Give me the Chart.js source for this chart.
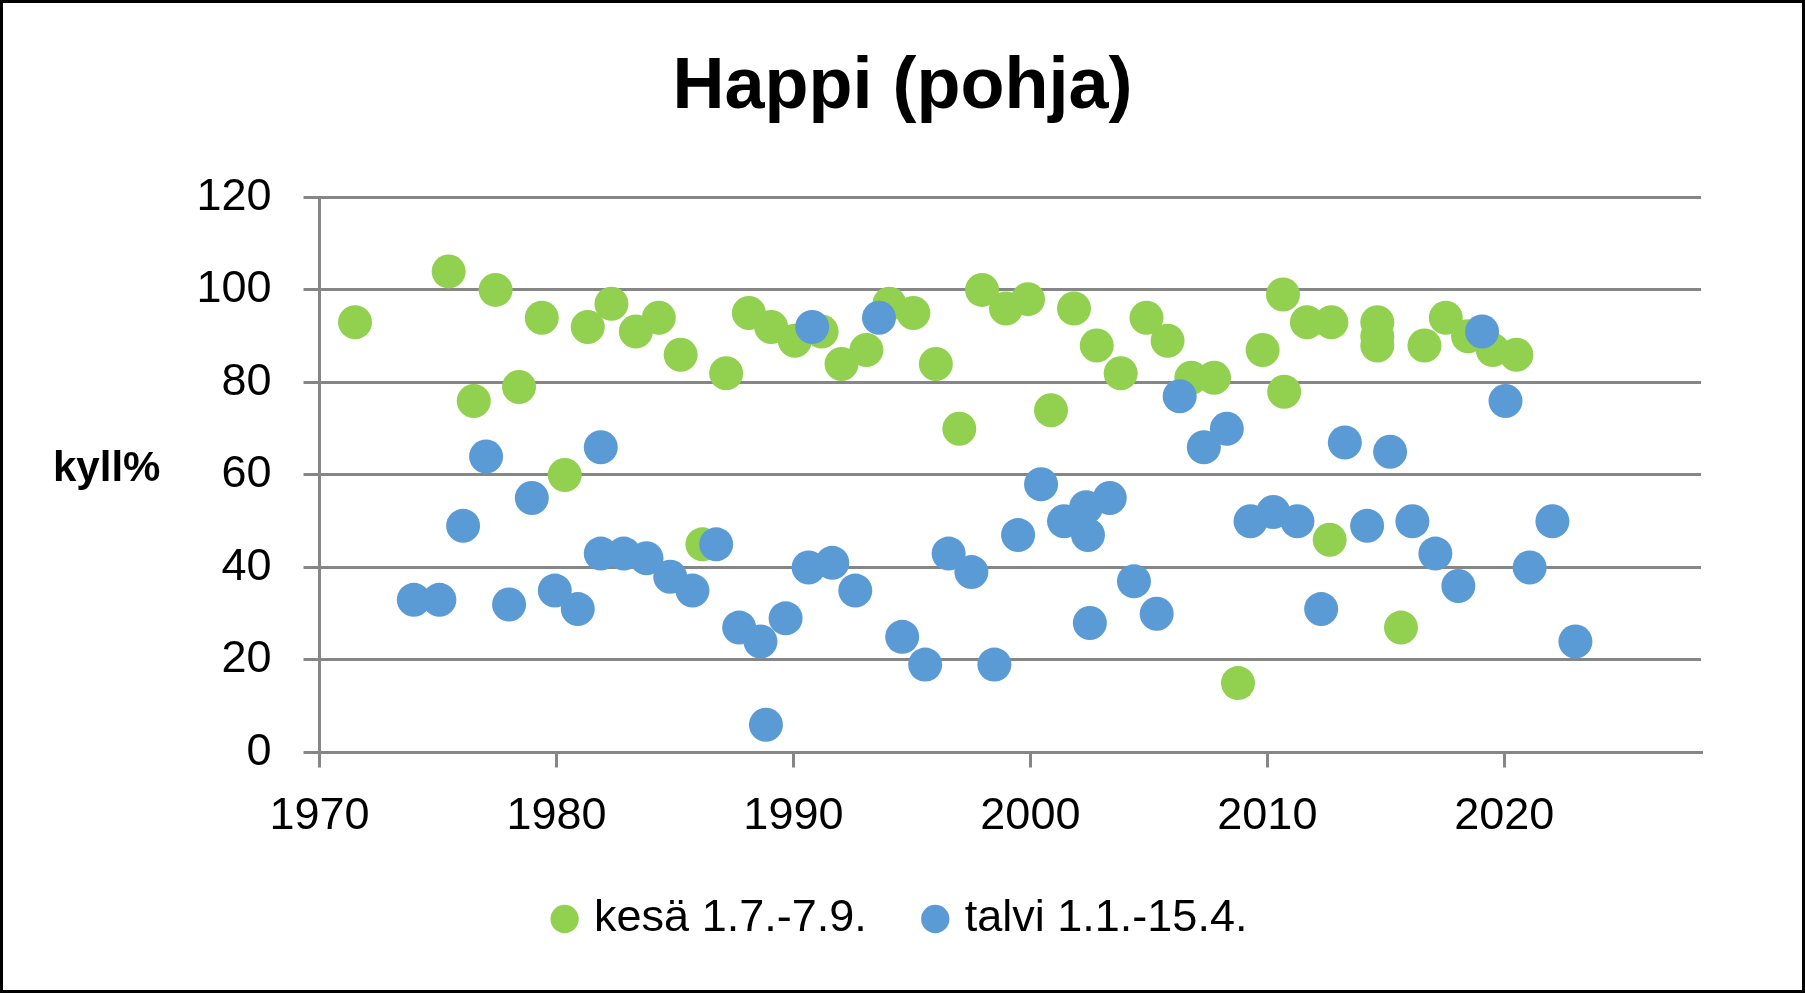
<!DOCTYPE html>
<html>
<head>
<meta charset="utf-8">
<script src="https://cdn.jsdelivr.net/npm/chart.js@4/dist/chart.umd.min.js"></script>
<style>
html, body { margin: 0; padding: 0; background: #fff; }
canvas { display: block; }
</style>
</head>
<body>
<canvas id="mycanvas" width="1805" height="993"></canvas>
<script>
var otsikko = "Happi (pohja)";
var yksikko = "kyll%";
var kesaNimi = "kesä 1.7.-7.9.";
var talviNimi = "talvi 1.1.-15.4.";

var kesaVuosi = [1971.50, 1975.45, 1976.51, 1977.43, 1978.42, 1979.38, 1980.35, 1981.32, 1982.32, 1983.35,
	1984.32, 1985.24, 1986.16, 1987.16, 1988.12, 1989.06, 1990.06, 1991.19, 1992.03, 1993.08,
	1994.05, 1995.06, 1996.01, 1997.00, 1997.96, 1998.97, 1999.90, 2000.87, 2001.84, 2002.80,
	2003.81, 2004.90, 2005.79, 2006.79, 2007.75, 2008.76, 2009.80, 2010.66, 2010.71, 2011.67,
	2012.63, 2012.70, 2014.64, 2014.64, 2014.64, 2015.64, 2016.63, 2017.53, 2018.47, 2019.51,
	2020.51];
var kesaArvo = [93, 104, 76, 100, 79, 94, 60, 92, 97, 91,
	94, 86, 45, 82, 95, 92, 89, 91, 84, 87,
	97, 95, 84, 70, 100, 96, 98, 74, 96, 88,
	82, 94, 89, 81, 81, 15, 87, 99, 78, 93,
	46, 93, 93, 90, 88, 27, 88, 94, 90, 87,
	86];

var talviVuosi = [1973.98, 1975.06, 1976.06, 1977.03, 1978.00, 1978.96, 1979.93, 1980.90, 1981.87, 1981.87,
	1982.84, 1983.80, 1984.80, 1985.74, 1986.74, 1987.71, 1988.61, 1988.84, 1989.67, 1990.64,
	1990.79, 1991.64, 1992.61, 1993.61, 1994.59, 1995.56, 1996.55, 1997.51, 1998.48, 1999.48,
	2000.45, 2001.42, 2002.35, 2002.43, 2002.51, 2003.35, 2004.37, 2005.33, 2006.30, 2007.32,
	2008.29, 2009.29, 2010.25, 2011.27, 2012.27, 2013.27, 2014.21, 2015.18, 2016.12, 2017.09,
	2018.06, 2019.06, 2020.05, 2021.07, 2022.03, 2023.00];
var talviArvo = [33, 33, 49, 64, 32, 55, 35, 31, 66, 43,
	43, 42, 38, 35, 45, 27, 24, 6, 29, 40,
	92, 41, 35, 94, 25, 19, 43, 39, 19, 47,
	58, 50, 53, 47, 28, 55, 37, 30, 77, 66,
	70, 50, 52, 50, 31, 67, 49, 65, 50, 43,
	36, 91, 76, 40, 50, 24];

var xTicks = [1970, 1980, 1990, 2000, 2010, 2020];
var yTicks = [0, 20, 40, 60, 80, 100, 120];

var harmaa = "#868686";
var fontti = "'Liberation Sans', Arial, sans-serif";

function pisteet(xs, ys) {
	var out = [];
	for (var i in xs) {
		out.push({x: xs[i], y: ys[i]});
	}
	return out;
}

// white background, frame and the horizontal unit label
var kehys = {
	id: 'kehys',
	beforeDraw: function(chart) {
		var c = chart.ctx;
		c.save();
		c.fillStyle = '#fff';
		c.fillRect(0, 0, chart.width, chart.height);
		c.restore();
	},
	afterDraw: function(chart) {
		var c = chart.ctx;
		c.save();
		c.fillStyle = '#000';
		c.font = "bold 42px " + fontti;
		c.textAlign = 'left';
		c.textBaseline = 'alphabetic';
		c.fillText(yksikko, 53, 481);
		c.lineWidth = 3;
		c.strokeStyle = '#000';
		c.strokeRect(1.5, 1.5, chart.width - 3, chart.height - 3);
		c.restore();
	}
};

var ctx = document.getElementById('mycanvas');

var LineGraph = new Chart(ctx, {
	type: 'scatter',
	data: {
		datasets: [
			{
				label: kesaNimi,
				data: pisteet(kesaVuosi, kesaArvo),
				backgroundColor: "#92D050",
				borderWidth: 0,
				pointRadius: 17,
				order: 2
			},
			{
				label: talviNimi,
				data: pisteet(talviVuosi, talviArvo),
				backgroundColor: "#5B9BD5",
				borderWidth: 0,
				pointRadius: 17,
				order: 1
			}
		]
	},
	options: {
		responsive: false,
		animation: false,
		events: [],
		devicePixelRatio: 1,
		layout: { padding: { left: 104, right: 104, top: 20, bottom: 41.5 } },
		plugins: {
			title: {
				display: true,
				text: otsikko,
				color: '#000',
				font: { family: fontti, size: 72, weight: 'bold' },
				padding: { top: 25, bottom: 66 }
			},
			legend: {
				position: 'bottom',
				labels: {
					usePointStyle: true,
					pointStyle: 'circle',
					boxWidth: 14,
					boxHeight: 20,
					padding: 61.5,
					color: '#000',
					font: { family: fontti, size: 45 },
					sort: function(a, b) { return a.datasetIndex - b.datasetIndex; }
				}
			},
			tooltip: { enabled: false }
		},
		scales: {
			x: {
				type: 'linear',
				min: 1970,
				max: 2028.3,
				bounds: 'data',
				afterBuildTicks: function(s) {
					s.ticks = xTicks.map(function(v) { return {value: v}; });
				},
				afterFit: function(s) { s.height = 82.5; },
				grid: { drawOnChartArea: false, drawTicks: true, tickLength: 15, lineWidth: 3, tickWidth: 3, color: harmaa, tickColor: harmaa },
				border: { display: true, color: harmaa, width: 3 },
				ticks: {
					color: '#000',
					font: { family: fontti, size: 45, lineHeight: 0.8 },
					padding: 31.5,
					maxRotation: 0,
					autoSkip: false,
					callback: function(v) { return String(v); }
				}
			},
			y: {
				min: 0,
				max: 120,
				afterBuildTicks: function(s) {
					s.ticks = yTicks.map(function(v) { return {value: v}; });
				},
				afterFit: function(s) { s.width = 215.5; },
				grid: { color: harmaa, lineWidth: 3, drawTicks: true, tickLength: 16 },
				border: { display: true, color: harmaa, width: 3 },
				ticks: {
					color: '#000',
					font: { family: fontti, size: 45 },
					padding: 32
				}
			}
		}
	},
	plugins: [kehys]
});
</script>
</body>
</html>
